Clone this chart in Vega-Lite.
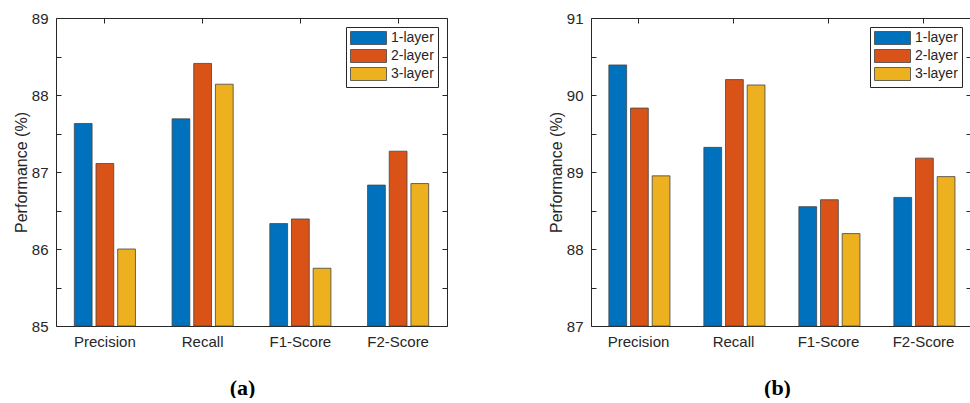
{
  "$schema": "https://vega.github.io/schema/vega-lite/v6.json",
  "padding": {"left": 13, "top": 11, "right": 0, "bottom": 0},
  "background": "white",
  "config": {
    "view": {"stroke": null},
    "font": "Liberation Sans",
    "axis": {
      "labelFont": "Liberation Sans",
      "titleFont": "Liberation Sans",
      "labelColor": "#262626",
      "titleColor": "#262626",
      "domainColor": "#262626",
      "tickColor": "#262626",
      "grid": false,
      "labelFontSize": 15,
      "titleFontSize": 16,
      "titleFontWeight": "normal",
      "tickSize": -5,
      "domainWidth": 1
    },
    "legend": {
      "labelFont": "Liberation Sans",
      "labelFontSize": 14,
      "labelColor": "#262626",
      "strokeColor": "#262626",
      "fillColor": "white",
      "padding": 4,
      "offset": 9,
      "rowPadding": 0,
      "symbolType": "M-1,-1H4.54V1H-1Z",
      "symbolSize": 169,
      "symbolStrokeColor": "#444444",
      "symbolStrokeWidth": 0.8,
      "symbolOpacity": 1,
      "labelOffset": 27
    },
    "concat": {"spacing": 100}
  },
  "datasets": {
    "a": [
      {"metric": "Precision", "layer": "1-layer", "value": 87.63},
      {"metric": "Precision", "layer": "2-layer", "value": 87.11},
      {"metric": "Precision", "layer": "3-layer", "value": 86.0},
      {"metric": "Recall", "layer": "1-layer", "value": 87.69},
      {"metric": "Recall", "layer": "2-layer", "value": 88.41},
      {"metric": "Recall", "layer": "3-layer", "value": 88.14},
      {"metric": "F1-Score", "layer": "1-layer", "value": 86.33},
      {"metric": "F1-Score", "layer": "2-layer", "value": 86.39},
      {"metric": "F1-Score", "layer": "3-layer", "value": 85.75},
      {"metric": "F2-Score", "layer": "1-layer", "value": 86.83},
      {"metric": "F2-Score", "layer": "2-layer", "value": 87.27},
      {"metric": "F2-Score", "layer": "3-layer", "value": 86.85}
    ],
    "b": [
      {"metric": "Precision", "layer": "1-layer", "value": 90.39},
      {"metric": "Precision", "layer": "2-layer", "value": 89.83},
      {"metric": "Precision", "layer": "3-layer", "value": 88.95},
      {"metric": "Recall", "layer": "1-layer", "value": 89.32},
      {"metric": "Recall", "layer": "2-layer", "value": 90.2},
      {"metric": "Recall", "layer": "3-layer", "value": 90.13},
      {"metric": "F1-Score", "layer": "1-layer", "value": 88.55},
      {"metric": "F1-Score", "layer": "2-layer", "value": 88.64},
      {"metric": "F1-Score", "layer": "3-layer", "value": 88.2},
      {"metric": "F2-Score", "layer": "1-layer", "value": 88.67},
      {"metric": "F2-Score", "layer": "2-layer", "value": 89.18},
      {"metric": "F2-Score", "layer": "3-layer", "value": 88.94}
    ]
  },
  "hconcat": [
    {
      "data": {"name": "a"},
      "width": 391,
      "height": 308,
      "layer": [
        {
          "mark": {"type": "bar", "stroke": "#444444", "strokeWidth": 0.8},
          "encoding": {
            "x": {"field": "metric", "type": "nominal", "sort": ["Precision", "Recall", "F1-Score", "F2-Score"],
              "scale": {"paddingInner": 0.335, "paddingOuter": 0.1675},
              "axis": {"orient": "bottom", "labelAngle": 0, "title": "(a)", "titleFont": "Liberation Serif", "titleFontSize": 22, "titleFontWeight": "bold", "titleColor": "black", "labelPadding": 13, "titlePadding": 28, "titleX": 186}},
            "xOffset": {"field": "layer", "type": "nominal", "sort": ["1-layer", "2-layer", "3-layer"], "scale": {"paddingInner": 0.18, "paddingOuter": 0.09}},
            "y": {"field": "value", "type": "quantitative", "scale": {"domain": [85, 89], "zero": false, "nice": false},
              "axis": {"orient": "left", "values": [85, 85.5, 86, 86.5, 87, 87.5, 88, 88.5, 89], "labelExpr": "datum.value % 1 === 0 ? format(datum.value, 'd') : ''", "title": "Performance (%)", "titlePadding": 2, "labelPadding": 13}},
            "y2": {"datum": 85},
            "color": {"field": "layer", "type": "nominal", "scale": {"domain": ["1-layer", "2-layer", "3-layer"], "range": ["#0072BD", "#D95319", "#EDB120"]},
              "legend": {"title": null, "orient": "top-right"}}
          }
        },
        {
          "mark": {"type": "bar", "opacity": 0},
          "encoding": {
            "x": {"field": "metric", "type": "nominal", "sort": ["Precision", "Recall", "F1-Score", "F2-Score"], "axis": {"orient": "top", "labels": false, "title": null}},
            "y": {"field": "value", "type": "quantitative", "axis": {"orient": "right", "labels": false, "title": null, "values": [85, 85.5, 86, 86.5, 87, 87.5, 88, 88.5, 89]}},
            "y2": {"datum": 85}
          }
        }
      ],
      "resolve": {"axis": {"x": "independent", "y": "independent"}}
    },
    {
      "data": {"name": "b"},
      "width": 380,
      "height": 308,
      "layer": [
        {
          "mark": {"type": "bar", "stroke": "#444444", "strokeWidth": 0.8},
          "encoding": {
            "x": {"field": "metric", "type": "nominal", "sort": ["Precision", "Recall", "F1-Score", "F2-Score"],
              "scale": {"paddingInner": 0.335, "paddingOuter": 0.1675},
              "axis": {"orient": "bottom", "labelAngle": 0, "title": "(b)", "titleFont": "Liberation Serif", "titleFontSize": 22, "titleFontWeight": "bold", "titleColor": "black", "labelPadding": 13, "titlePadding": 28, "titleX": 186}},
            "xOffset": {"field": "layer", "type": "nominal", "sort": ["1-layer", "2-layer", "3-layer"], "scale": {"paddingInner": 0.18, "paddingOuter": 0.09}},
            "y": {"field": "value", "type": "quantitative", "scale": {"domain": [87, 91], "zero": false, "nice": false},
              "axis": {"orient": "left", "values": [87, 87.5, 88, 88.5, 89, 89.5, 90, 90.5, 91], "labelExpr": "datum.value % 1 === 0 ? format(datum.value, 'd') : ''", "title": "Performance (%)", "titlePadding": 2, "labelPadding": 13}},
            "y2": {"datum": 87},
            "color": {"field": "layer", "type": "nominal", "scale": {"domain": ["1-layer", "2-layer", "3-layer"], "range": ["#0072BD", "#D95319", "#EDB120"]},
              "legend": {"title": null, "orient": "top-right"}}
          }
        },
        {
          "mark": {"type": "bar", "opacity": 0},
          "encoding": {
            "x": {"field": "metric", "type": "nominal", "sort": ["Precision", "Recall", "F1-Score", "F2-Score"], "axis": {"orient": "top", "labels": false, "title": null}},
            "y": {"field": "value", "type": "quantitative", "axis": {"orient": "right", "labels": false, "title": null, "values": [87, 87.5, 88, 88.5, 89, 89.5, 90, 90.5, 91]}},
            "y2": {"datum": 87}
          }
        }
      ],
      "resolve": {"axis": {"x": "independent", "y": "independent"}}
    }
  ],
  "resolve": {"legend": {"color": "independent"}}
}
